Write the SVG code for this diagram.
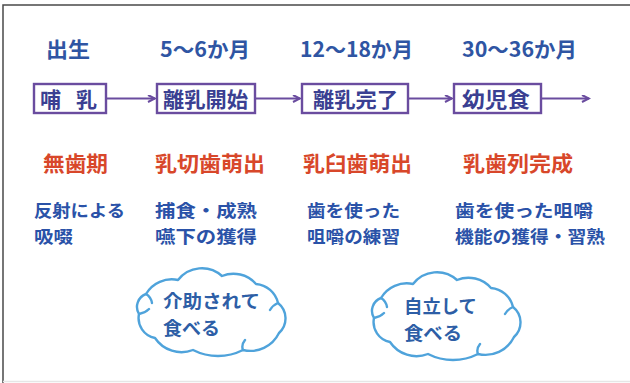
<svg xmlns="http://www.w3.org/2000/svg" xmlns:xlink="http://www.w3.org/1999/xlink" width="630" height="383" viewBox="0 0 630 383">
<style>
text{font-family:"Noto Sans CJK JP","Noto Sans CJK SC",sans-serif;font-weight:bold;}
.hdr{fill:#2F55A3;font-size:21px;}
.box{fill:#fff;stroke:#6A4C9F;stroke-width:2.4;}
.btx{fill:#3A3F92;font-size:21px;}
.red{fill:#D8472A;font-size:21px;}
.dsc{fill:#2A52A8;font-size:17.5px;}
.cl{fill:#fff;stroke:#4FA3DB;stroke-width:2.4;stroke-linejoin:round;stroke-linecap:round;}
.ctx{fill:#2D5EA6;font-size:18px;}
.con{stroke:#6A4C9F;stroke-width:2;fill:none;}
</style>
<defs>
<marker id="ah" markerWidth="10" markerHeight="10" refX="8" refY="4" orient="auto" markerUnits="userSpaceOnUse">
<path d="M1,0.5 L8,4 L1,7.5" fill="none" stroke="#6A4C9F" stroke-width="2"/>
</marker>
<path id="cloud" d="M146,294 A30,30 0 0 1 178,280 A30,30 0 0 1 222,276 A30,30 0 0 1 256,284 A24.6,24.6 0 0 1 278,303 A19.6,19.6 0 0 1 279,333 A31.8,31.8 0 0 1 243,350 A55,55 0 0 1 193,350 A31.8,31.8 0 0 1 155,338 A20.3,20.3 0 0 1 139,314 A13.7,13.7 0 0 1 146,294 Z"/>
</defs>
<rect width="630" height="383" fill="#fff"/>
<path d="M3,383 V5 H630" fill="none" stroke="#4a4a4a" stroke-width="1.5"/>
<path d="M3,381.5 H630" fill="none" stroke="#e6e6e6" stroke-width="1.5"/>

<g id="headers">
<text class="hdr" x="46" y="57" textLength="44" lengthAdjust="spacingAndGlyphs">出生</text>
<text class="hdr" x="160" y="57" textLength="90" lengthAdjust="spacingAndGlyphs">5〜6か月</text>
<text class="hdr" x="300" y="57" textLength="113" lengthAdjust="spacingAndGlyphs">12〜18か月</text>
<text class="hdr" x="462" y="57" textLength="115" lengthAdjust="spacingAndGlyphs">30〜36か月</text>
</g>

<g id="connectors">
<line class="con" x1="107" y1="98.5" x2="155" y2="98.5" marker-end="url(#ah)"/>
<line class="con" x1="256" y1="98.5" x2="300" y2="98.5" marker-end="url(#ah)"/>
<line class="con" x1="409" y1="98.5" x2="452" y2="98.5" marker-end="url(#ah)"/>
<line class="con" x1="542" y1="98.5" x2="589" y2="98.5" marker-end="url(#ah)"/>
</g>

<g id="node-honyu">
<rect class="box" x="34" y="84" width="72" height="29"/>
<text class="btx" x="40" y="106.5">哺<tspan x="76">乳</tspan></text>
</g>
<g id="node-rinyu-kaishi">
<rect class="box" x="157" y="84" width="98" height="29"/>
<text class="btx" x="163" y="106.5" textLength="85" lengthAdjust="spacingAndGlyphs">離乳開始</text>
</g>
<g id="node-rinyu-kanryo">
<rect class="box" x="302" y="84" width="106" height="29"/>
<text class="btx" x="313" y="106.5" textLength="85" lengthAdjust="spacingAndGlyphs">離乳完了</text>
</g>
<g id="node-yojishoku">
<rect class="box" x="454" y="84" width="87" height="29"/>
<text class="btx" x="462" y="106.5" textLength="68" lengthAdjust="spacingAndGlyphs">幼児食</text>
</g>

<g id="teeth">
<text class="red" x="43" y="171" textLength="65" lengthAdjust="spacingAndGlyphs">無歯期</text>
<text class="red" x="155" y="171" textLength="110" lengthAdjust="spacingAndGlyphs">乳切歯萌出</text>
<text class="red" x="303" y="171" textLength="109" lengthAdjust="spacingAndGlyphs">乳臼歯萌出</text>
<text class="red" x="463" y="171" textLength="110" lengthAdjust="spacingAndGlyphs">乳歯列完成</text>
</g>

<g id="functions">
<text class="dsc" x="34" y="217" textLength="91" lengthAdjust="spacingAndGlyphs">反射による</text>
<text class="dsc" x="34" y="243" textLength="39" lengthAdjust="spacingAndGlyphs">吸啜</text>
<text class="dsc" x="155" y="217" textLength="102" lengthAdjust="spacingAndGlyphs">捕食・成熟</text>
<text class="dsc" x="155" y="243" textLength="102" lengthAdjust="spacingAndGlyphs">嚥下の獲得</text>
<text class="dsc" x="307" y="217" textLength="93" lengthAdjust="spacingAndGlyphs">歯を使った</text>
<text class="dsc" x="307" y="243" textLength="93" lengthAdjust="spacingAndGlyphs">咀嚼の練習</text>
<text class="dsc" x="455" y="217" textLength="138" lengthAdjust="spacingAndGlyphs">歯を使った咀嚼</text>
<text class="dsc" x="455" y="243" textLength="150" lengthAdjust="spacingAndGlyphs">機能の獲得・習熟</text>
</g>

<g id="cloud-kaijo">
<use xlink:href="#cloud" class="cl"/>
<path class="cl" fill="none" d="M146,294 q5,3 6,9 M139,314 q6,-1 10,-5 M243,350 q-2,-5 2,-10 M278,303 q-5,2 -8,7"/>
<text class="ctx" x="163" y="308" textLength="97" lengthAdjust="spacingAndGlyphs">介助されて</text>
<text class="ctx" x="163" y="335" textLength="57" lengthAdjust="spacingAndGlyphs">食べる</text>
</g>

<g id="cloud-jiritsu" transform="translate(235,4)">
<use xlink:href="#cloud" class="cl"/>
<path class="cl" fill="none" d="M146,294 q5,3 6,9 M139,314 q6,-1 10,-5 M243,350 q-2,-5 2,-10 M278,303 q-5,2 -8,7"/>
<text class="ctx" x="169" y="309" textLength="73" lengthAdjust="spacingAndGlyphs">自立して</text>
<text class="ctx" x="169" y="336" textLength="58" lengthAdjust="spacingAndGlyphs">食べる</text>
</g>
</svg>
